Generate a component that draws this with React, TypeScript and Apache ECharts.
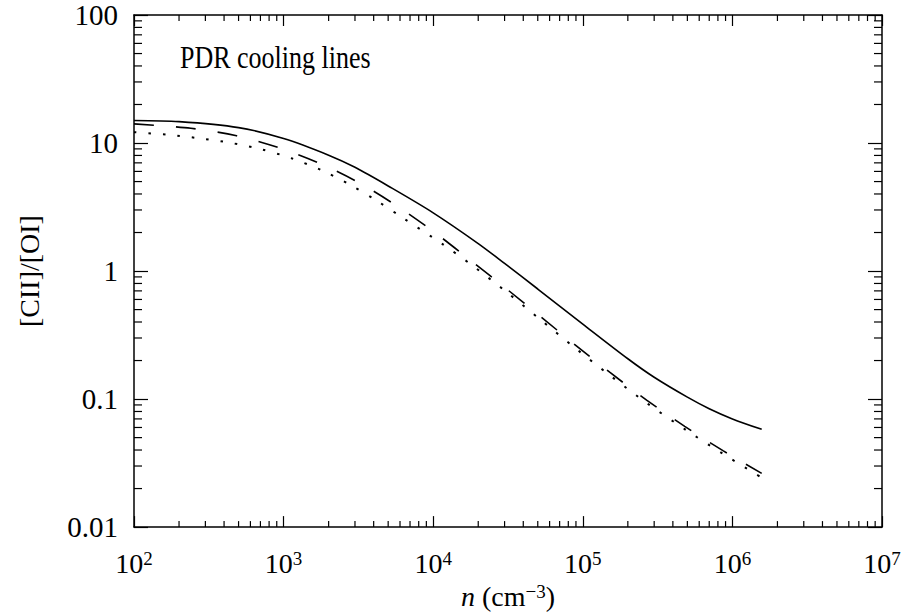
import React, { useEffect, useRef } from "react";
import * as echarts from "echarts";

// ---- data ----
const X_MIN = 1e2;
const X_MAX = 1e7;
const Y_MIN = 0.01;
const Y_MAX = 100;

const X_TICK_EXP = ["2", "3", "4", "5", "6", "7"];
const Y_TICK_LABELS = ["0.01", "0.1", "1", "10", "100"];
const MINOR_MULT = [2, 3, 4, 5, 6, 7, 8, 9];
const X_DECADES = [1e2, 1e3, 1e4, 1e5, 1e6];
const Y_DECADES = [0.01, 0.1, 1, 10];

const SOLID_N = [1e2, 2e2, 5e2, 1e3, 2e3, 3e3, 5e3, 1e4, 2e4, 3e4, 5e4, 1e5, 2e5, 3e5, 5e5, 7e5, 1e6, 1.57e6];
const SOLID_V = [15.0, 14.7, 13.2, 10.84, 8.04, 6.46, 4.62, 2.85, 1.64, 1.148, 0.724, 0.385, 0.2065, 0.148, 0.1035, 0.0841, 0.07, 0.058];

const DASH_N = [1e2, 2.4e2, 4.85e2, 9.2e2, 1.75e3, 3.28e3, 5.85e3, 1.03e4, 1.8e4, 3.1e4, 5.25e4, 9.1e4, 1.52e5, 2.67e5, 4.8e5, 8.7e5, 1.57e6];
const DASH_V = [14.1, 13.03, 11.4, 9.23, 6.92, 4.81, 3.17, 1.99, 1.197, 0.724, 0.439, 0.2594, 0.1614, 0.0982, 0.0612, 0.0394, 0.0263];

const DOT_N = [1e2, 1.7e2, 2.76e2, 4.4e2, 7.1e2, 1.13e3, 1.8e3, 2.78e3, 4.2e3, 6.3e3, 1.14e4, 1.8e4, 3.1e4, 5.25e4, 9.1e4, 1.52e5, 2.67e5, 4.8e5, 8.7e5, 1.57e6];
const DOT_V = [12.15, 11.59, 10.87, 10.04, 8.93, 7.6, 6.12, 4.72, 3.54, 2.59, 1.64, 1.12, 0.684, 0.414, 0.245, 0.153, 0.0933, 0.0582, 0.0372, 0.0243];

const TITLE = "PDR cooling lines";
const Y_NAME = "[CII]/[OI]";

const FONT = '"Liberation Serif", "Times New Roman", serif';
const INK = "#000";

function pairs(n: number[], v: number[]) {
  return n.map((x, i) => [x, v[i]]);
}

const xMinor: number[][] = [];
X_DECADES.forEach((d) => MINOR_MULT.forEach((m) => xMinor.push([d * m, Y_MIN])));
const yMinor: number[][] = [];
Y_DECADES.forEach((d) => MINOR_MULT.forEach((m) => yMinor.push([X_MIN, d * m])));

export default function App() {
  const ref = useRef<HTMLDivElement>(null);
  useEffect(() => {
    if (!ref.current) return;
    const chart = echarts.init(ref.current, null, { renderer: "svg" });

    const axisLine = { show: true, lineStyle: { color: INK, width: 1.5 } };

    const option: any = {
      animation: false,
      backgroundColor: "#fff",
      grid: { left: 134, right: 27, top: 15, bottom: 83 },
      graphic: [
        {
          type: "text",
          x: 180,
          y: 57.5,
          scaleY: 1.2,
          style: {
            text: TITLE,
            font: `26px ${FONT}`,
            fill: INK,
            textAlign: "left",
            textVerticalAlign: "middle",
          },
        },
      ],
      xAxis: [
        {
          type: "log",
          logBase: 10,
          min: X_MIN,
          max: X_MAX,
          position: "bottom",
          axisLine,
          axisTick: { show: true, inside: true, length: 11, lineStyle: { color: INK, width: 1.2 } },
          splitLine: { show: false },
          axisLabel: {
            margin: 22,
            color: INK,
            formatter: (v: number) => {
              const e = Math.round(Math.log10(v));
              const idx = e - 2;
              return `{b|10}{s|${X_TICK_EXP[idx] ?? e}}`;
            },
            rich: {
              b: { fontFamily: FONT, fontSize: 28, color: INK },
              s: { fontFamily: FONT, fontSize: 19, color: INK, verticalAlign: "top", lineHeight: 8 },
            },
          },
          name: "{i|n}{r| (cm}{s|−3}{r|)}",
          nameLocation: "middle",
          nameGap: 52,
          nameTextStyle: {
            rich: {
              i: { fontFamily: FONT, fontSize: 28, fontStyle: "italic", color: INK },
              r: { fontFamily: FONT, fontSize: 28, color: INK },
              s: { fontFamily: FONT, fontSize: 19, color: INK, verticalAlign: "top", lineHeight: 8 },
            },
          },
        },
        {
          type: "log",
          logBase: 10,
          min: X_MIN,
          max: X_MAX,
          position: "top",
          axisLine,
          axisTick: { show: true, inside: true, length: 11, lineStyle: { color: INK, width: 1.2 } },
          splitLine: { show: false },
          axisLabel: { show: false },
        },
      ],
      yAxis: [
        {
          type: "log",
          logBase: 10,
          min: Y_MIN,
          max: Y_MAX,
          position: "left",
          axisLine,
          axisTick: { show: true, inside: true, length: 14, lineStyle: { color: INK, width: 1.2 } },
          splitLine: { show: false },
          axisLabel: {
            margin: 16,
            color: INK,
            fontFamily: FONT,
            fontSize: 29,
            formatter: (v: number) => {
              const e = Math.round(Math.log10(v));
              return Y_TICK_LABELS[e + 2] ?? String(v);
            },
          },
          name: Y_NAME,
          nameLocation: "middle",
          nameRotate: 90,
          nameGap: 91,
          nameTextStyle: { fontFamily: FONT, fontSize: 28, color: INK },
        },
        {
          type: "log",
          logBase: 10,
          min: Y_MIN,
          max: Y_MAX,
          position: "right",
          axisLine,
          axisTick: { show: true, inside: true, length: 14, lineStyle: { color: INK, width: 1.2 } },
          splitLine: { show: false },
          axisLabel: { show: false },
        },
      ],
      series: [
        {
          type: "custom",
          silent: true,
          xAxisIndex: 0,
          yAxisIndex: 0,
          clip: false,
          data: xMinor,
          encode: { x: 0, y: 1 },
          renderItem: (params: any, api: any) => {
            const v = api.value(0);
            const pb = api.coord([v, Y_MIN]);
            const pt = api.coord([v, Y_MAX]);
            const st = { stroke: INK, lineWidth: 1.2 };
            return {
              type: "group",
              children: [
                { type: "line", shape: { x1: pb[0], y1: pb[1], x2: pb[0], y2: pb[1] - 6 }, style: st },
                { type: "line", shape: { x1: pt[0], y1: pt[1], x2: pt[0], y2: pt[1] + 6 }, style: st },
              ],
            };
          },
        },
        {
          type: "custom",
          silent: true,
          xAxisIndex: 0,
          yAxisIndex: 0,
          clip: false,
          data: yMinor,
          encode: { x: 0, y: 1 },
          renderItem: (params: any, api: any) => {
            const v = api.value(1);
            const pl = api.coord([X_MIN, v]);
            const pr = api.coord([X_MAX, v]);
            const st = { stroke: INK, lineWidth: 1.2 };
            return {
              type: "group",
              children: [
                { type: "line", shape: { x1: pl[0], y1: pl[1], x2: pl[0] + 8, y2: pl[1] }, style: st },
                { type: "line", shape: { x1: pr[0], y1: pr[1], x2: pr[0] - 8, y2: pr[1] }, style: st },
              ],
            };
          },
        },
        {
          type: "line",
          name: "solid",
          data: pairs(SOLID_N, SOLID_V),
          showSymbol: false,
          smooth: 0.3,
          lineStyle: { color: INK, width: 1.6, type: "solid" },
        },
        {
          type: "line",
          name: "dashed",
          data: pairs(DASH_N, DASH_V),
          showSymbol: false,
          smooth: 0.3,
          lineStyle: { color: INK, width: 1.6, type: [20, 22] },
        },
        {
          type: "line",
          name: "dotted",
          data: pairs(DOT_N, DOT_V),
          showSymbol: false,
          smooth: 0.3,
          lineStyle: { color: INK, width: 2, type: [2.5, 12] },
        },
      ],
    };

    chart.setOption(option);
    return () => chart.dispose();
  }, []);

  return (
    <div
      ref={ref}
      style={{ position: "fixed", left: 0, top: 0, width: 909, height: 615, background: "#fff" }}
    />
  );
}
